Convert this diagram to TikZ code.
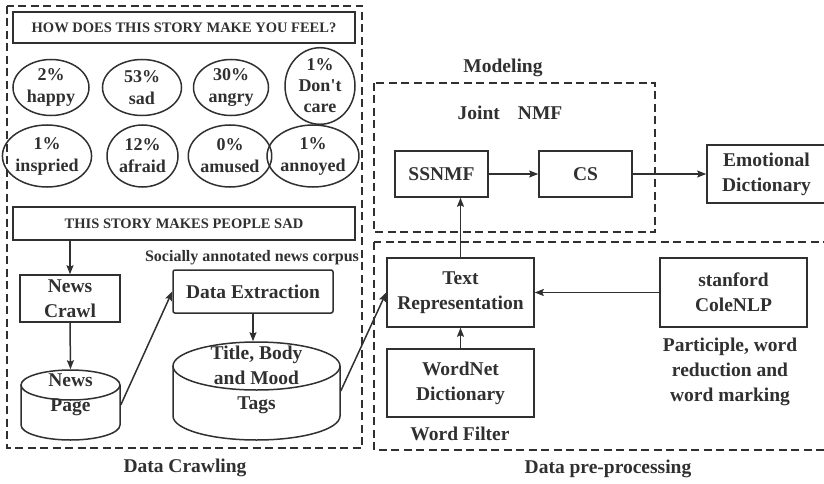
\documentclass[tikz,border=0pt]{standalone}
\usepackage{fontspec}
\setmainfont{Liberation Serif}
\usetikzlibrary{arrows.meta,shapes.geometric}
\definecolor{ink}{HTML}{303030}
\newcommand\fmain{\bfseries\fontsize{19.5}{25}\selectfont}
\newcommand\femo{\bfseries\fontsize{18}{22}\selectfont}
\newcommand\fhead{\bfseries\fontsize{14.5}{17}\selectfont}
\newcommand\fsmall{\bfseries\fontsize{16}{19}\selectfont}
\begin{document}
\begin{tikzpicture}[x=1pt,y=-1pt,line width=1.5pt,color=ink,
  box/.style={draw,rectangle,inner sep=0pt,align=center,font=\fmain},
  emo/.style={draw,ellipse,inner sep=0pt,align=center,font=\femo},
  lbl/.style={align=center,font=\fmain,inner sep=0pt},
  frame/.style={draw,line width=1.4pt,dash pattern=on 8pt off 4.5pt},
  arr/.style={draw,-{Stealth[length=9pt,width=7pt,inset=1.5pt]}},
  ghost/.style={rectangle,inner sep=0pt,draw=none}]
\useasboundingbox (0,0) rectangle (824,484);
\clip (0,0) rectangle (824,484);

% ---------- Data Crawling ----------
\draw[frame] (7,6) rectangle (362,448);
\node[lbl] (crawling) at (185,468) {Data Crawling};

\node[box,font=\fhead,minimum width=342,minimum height=31] (q) at (184,27.5) {HOW DOES THIS STORY MAKE YOU FEEL?};

\node[emo,minimum width=76,minimum height=56] (e1) at (51,87.5) {2\%\\happy};
\node[emo,minimum width=79,minimum height=56] (e2) at (142,87.5) {53\%\\sad};
\node[emo,minimum width=75,minimum height=56] (e3) at (231,87.5) {30\%\\angry};
\node[emo,minimum width=70,minimum height=58,font=\bfseries\fontsize{18}{21}\selectfont] (e4) at (320,86) {1\%\\Don\textquotesingle t\\care};
\node[emo,minimum width=80,minimum height=62] (e5) at (47,156) {1\%\\inspried};
\node[emo,minimum width=71,minimum height=62] (e6) at (142.5,156) {12\%\\afraid};
\node[emo,minimum width=74,minimum height=62] (e7) at (230,156) {0\%\\amused};
\node[emo,minimum width=80,minimum height=62] (e8) at (313,156) {1\%\\annoyed};

\node[box,font=\fhead,minimum width=342,minimum height=33] (sad) at (184,223.5) {THIS STORY MAKES PEOPLE SAD};

\node[box,minimum width=100,minimum height=47] (crawl) at (70,298.5) {News\\Crawl};

% News Page cylinder
\node[ghost,minimum width=99,minimum height=70] (page) at (70.5,405) {};
\node[lbl] (pagetxt) at (70.5,395) {News\\Page};
\draw (70.5,385) ellipse [x radius=49.5, y radius=15];
\draw (21,385) -- (21,425) arc[start angle=180,end angle=0,x radius=49.5,y radius=15] -- (120,385);

\node[lbl,font=\fsmall] (corpus) at (252,258) {Socially annotated news corpus};
\node[box,rounded corners=2pt,minimum width=160,minimum height=43] (ext) at (253,291.5) {Data Extraction};

% Title/Body cylinder
\node[ghost,minimum width=167,minimum height=98] (tags) at (256.5,391) {};
\node[lbl] (tagstxt) at (256.5,380) {Title, Body\\and Mood\\Tags};
\draw (256.5,366) ellipse [x radius=83.5, y radius=24];
\draw (173,366) -- (173,416) arc[start angle=180,end angle=0,x radius=83.5,y radius=24] -- (340,366);

% ---------- Modeling ----------
\node[lbl] (modeling) at (503,68) {Modeling};
\draw[frame] (374,83) rectangle (655,232);
\node[lbl] (joint) at (510,113) {Joint\hspace{18pt}NMF};
\node[box,minimum width=93,minimum height=46] (ssnmf) at (441.5,174) {SSNMF};
\node[box,minimum width=93,minimum height=46] (cs) at (585.5,174) {CS};
\node[box,minimum width=119,minimum height=58] (emod) at (766.5,174) {Emotional\\Dictionary};

% ---------- Data pre-processing ----------
\draw[frame] (374,242) rectangle (832,450);
\node[lbl] (prep) at (608,469) {Data pre-processing};
\node[box,minimum width=147,minimum height=69] (trep) at (460.5,292.5) {Text\\Representation};
\node[box,minimum width=147,minimum height=69] (stan) at (733.5,292.5) {stanford\\ColeNLP};
\node[box,minimum width=147,minimum height=68] (wnet) at (460.5,383) {WordNet\\Dictionary};
\node[lbl] (filter) at (460,434) {Word Filter};
\node[lbl] (part) at (730,372) {Participle, word\\reduction and\\word marking};

% ---------- connectors ----------
\draw[arr] (crawl.north |- sad.south) -- (crawl.north);
\draw[arr] (crawl.south) -- (page.north);
\draw[arr] (page.east) -- (ext.west);
\draw[arr] (ext.south) -- (ext.south |- tags.north);
\draw[arr] (tags.east) -- (trep.west);
\draw[arr] (trep.north) -- (trep.north |- ssnmf.south);
\draw[arr] (wnet.north) -- (trep.south);
\draw[arr] (stan.west) -- (trep.east);
\draw[arr] (ssnmf.east) -- (cs.west);
\draw[arr] (cs.east) -- (emod.west);
\end{tikzpicture}
\end{document}
